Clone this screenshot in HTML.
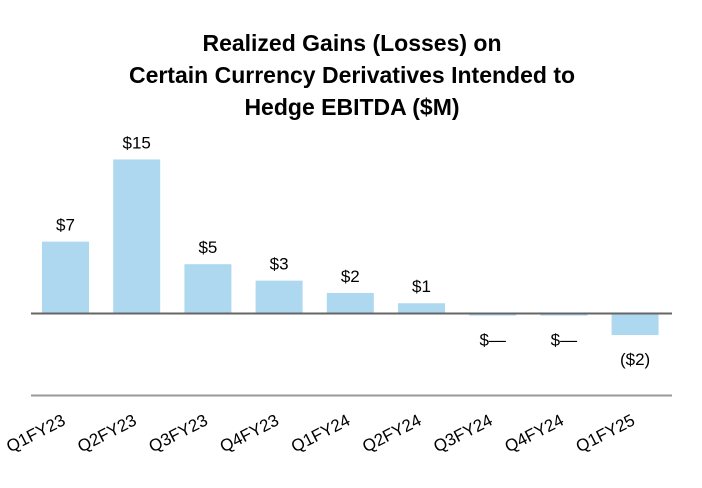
<!DOCTYPE html>
<html><head><meta charset="utf-8"><style>
body{margin:0;background:#fff;}
svg{display:block;font-family:"Liberation Sans",Arial,sans-serif;}
</style></head><body>
<svg width="702" height="488">
<g font-weight="bold" font-size="23" text-anchor="middle" fill="#000">
<text x="352" y="51">Realized Gains (Losses) on</text>
<text x="352" y="83">Certain Currency Derivatives Intended to</text>
<text x="352" y="115">Hedge EBITDA ($M)</text>
</g>
<g id="bars"></g>
<line x1="31" x2="672" y1="313.5" y2="313.5" stroke="#666" stroke-width="2"/>
<line x1="31" x2="672" y1="395.5" y2="395.5" stroke="#999" stroke-width="2"/>
<g id="labels"></g>
</svg>
<script>
const categories=["Q1FY23","Q2FY23","Q3FY23","Q4FY23","Q1FY24","Q2FY24","Q3FY24","Q4FY24","Q1FY25"];
const values=[7,15,4.8,3.2,2.0,1.0,-0.2,-0.2,-2.1];
const valueLabels=["$7","$15","$5","$3","$2","$1","$—","$—","($2)"];
const NS="http://www.w3.org/2000/svg";
const y0=313.5,pxPerUnit=10.27;
function y(v){return y0-v*pxPerUnit;}
function xc(i){return 65.5+i*71.2;}
const bw=47;
const gb=document.getElementById("bars"),gl=document.getElementById("labels");
categories.forEach((c,i)=>{
 const v=values[i];
 const r=document.createElementNS(NS,"rect");
 
 
 r.setAttribute("x",xc(i)-bw/2);
 r.setAttribute("y",Math.min(y(v),y0));
 r.setAttribute("width",bw);
 r.setAttribute("height",Math.max(Math.abs(y(v)-y0),1));
 r.setAttribute("fill","#add8f0");
 gb.appendChild(r);
 const t=document.createElementNS(NS,"text");
 
 
 t.setAttribute("x",xc(i));
 t.setAttribute("y",v>=0?y(v)-11:Math.max(y(v),y0)+30);
 t.setAttribute("text-anchor","middle");
 t.setAttribute("font-size","17");
 t.textContent=valueLabels[i];
 gl.appendChild(t);
 const l=document.createElementNS(NS,"text");
 
 
 const lx=xc(i)+1,ly=424;
 l.setAttribute("x",lx);l.setAttribute("y",ly);
 l.setAttribute("text-anchor","end");
 l.setAttribute("font-size","17");
 l.setAttribute("transform","rotate(-27 "+lx+" "+ly+")");
 l.textContent=c;
 gl.appendChild(l);
});
</script>
</body></html>
